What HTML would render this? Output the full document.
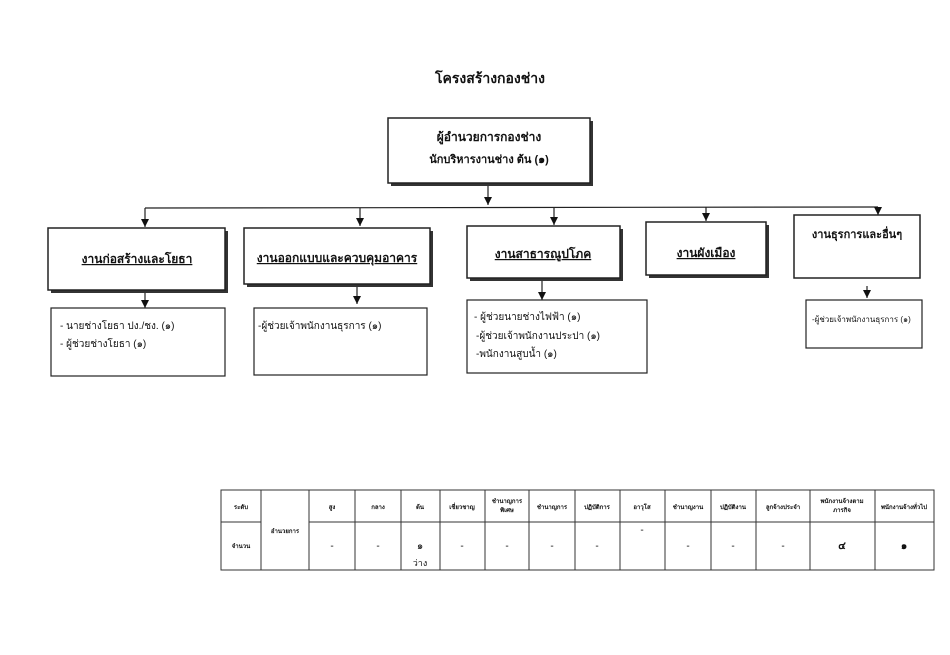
<!DOCTYPE html>
<html><head><meta charset="utf-8"><style>
body{margin:0;background:#fff;width:950px;height:650px;overflow:hidden}
svg text{font-family:"Liberation Sans","DejaVu Sans",sans-serif;fill:#111}
</style></head><body>
<svg width="950" height="650" viewBox="0 0 950 650" xmlns="http://www.w3.org/2000/svg">
<defs><marker id="a" markerWidth="8" markerHeight="8" refX="8" refY="4" orient="auto" markerUnits="userSpaceOnUse"><path d="M0,0 L8,4 L0,8 z" fill="#111"/></marker></defs>
<rect width="950" height="650" fill="#fff"/>
<text x="490" y="83" font-size="14" font-weight="bold" text-anchor="middle">โครงสร้างกองช่าง</text>
<g stroke="#222" fill="#fff">
<rect x="391" y="121" width="202" height="65" fill="#333" stroke="none"/>
<rect x="388" y="118" width="202" height="65" stroke-width="1.5"/>
<rect x="51" y="231" width="177" height="62" fill="#333" stroke="none"/>
<rect x="48" y="228" width="177" height="62" stroke-width="1.5"/>
<rect x="247" y="231" width="186" height="56" fill="#333" stroke="none"/>
<rect x="244" y="228" width="186" height="56" stroke-width="1.5"/>
<rect x="470" y="229" width="153" height="52" fill="#333" stroke="none"/>
<rect x="467" y="226" width="153" height="52" stroke-width="1.5"/>
<rect x="649" y="225" width="120" height="53" fill="#333" stroke="none"/>
<rect x="646" y="222" width="120" height="53" stroke-width="1.5"/>
<rect x="794" y="215" width="126" height="63" stroke-width="1.5"/>
<rect x="51" y="308" width="174" height="68" stroke-width="1.2"/>
<rect x="254" y="308" width="173" height="67" stroke-width="1.2"/>
<rect x="467" y="300" width="180" height="73" stroke-width="1.2"/>
<rect x="806" y="300" width="116" height="48" stroke-width="1.2"/>
</g>
<g stroke="#222" stroke-width="1.2" fill="none">
<line x1="488" y1="186" x2="488" y2="205" marker-end="url(#a)"/>
<line x1="145" y1="208" x2="878" y2="207"/>
<line x1="145" y1="208" x2="145" y2="227" marker-end="url(#a)"/>
<line x1="360" y1="208" x2="360" y2="226" marker-end="url(#a)"/>
<line x1="554" y1="208" x2="554" y2="225" marker-end="url(#a)"/>
<line x1="706" y1="207" x2="706" y2="221" marker-end="url(#a)"/>
<line x1="878" y1="207" x2="878" y2="215" marker-end="url(#a)"/>
<line x1="145" y1="293" x2="145" y2="308" marker-end="url(#a)"/>
<line x1="357" y1="287" x2="357" y2="304" marker-end="url(#a)"/>
<line x1="542" y1="281" x2="542" y2="300" marker-end="url(#a)"/>
<line x1="867" y1="286" x2="867" y2="298" marker-end="url(#a)"/>
</g>
<text x="489" y="141" font-size="12" font-weight="bold" text-anchor="middle">ผู้อำนวยการกองช่าง</text>
<text x="489" y="163" font-size="11" font-weight="bold" text-anchor="middle">นักบริหารงานช่าง  ต้น (๑)</text>
<text x="137" y="263" font-size="12" font-weight="bold" text-anchor="middle" text-decoration="underline">งานก่อสร้างและโยธา</text>
<text x="337" y="262" font-size="12" font-weight="bold" text-anchor="middle" text-decoration="underline">งานออกแบบและควบคุมอาคาร</text>
<text x="543" y="258" font-size="12" font-weight="bold" text-anchor="middle" text-decoration="underline">งานสาธารณูปโภค</text>
<text x="706" y="257" font-size="12" font-weight="bold" text-anchor="middle" text-decoration="underline">งานผังเมือง</text>
<text x="857" y="238" font-size="11" font-weight="bold" text-anchor="middle">งานธุรการและอื่นๆ</text>
<text x="60" y="329" font-size="10">- นายช่างโยธา ปง./ชง. (๑)</text>
<text x="60" y="347" font-size="10">- ผู้ช่วยช่างโยธา (๑)</text>
<text x="258" y="329" font-size="10">-ผู้ช่วยเจ้าพนักงานธุรการ (๑)</text>
<text x="474" y="320" font-size="10">- ผู้ช่วยนายช่างไฟฟ้า (๑)</text>
<text x="476" y="339" font-size="10">-ผู้ช่วยเจ้าพนักงานประปา (๑)</text>
<text x="476" y="357" font-size="10">-พนักงานสูบน้ำ (๑)</text>
<text x="812" y="322" font-size="8">-ผู้ช่วยเจ้าพนักงานธุรการ (๑)</text>
<g stroke="#333" stroke-width="1" fill="none">
<rect x="221" y="490" width="713" height="80"/>
<line x1="221" y1="522" x2="261" y2="522"/>
<line x1="309" y1="522" x2="934" y2="522"/>
<line x1="261" y1="490" x2="261" y2="570"/><line x1="309" y1="490" x2="309" y2="570"/>
<line x1="355" y1="490" x2="355" y2="570"/><line x1="401" y1="490" x2="401" y2="570"/>
<line x1="440" y1="490" x2="440" y2="570"/><line x1="485" y1="490" x2="485" y2="570"/>
<line x1="529" y1="490" x2="529" y2="570"/><line x1="575" y1="490" x2="575" y2="570"/>
<line x1="620" y1="490" x2="620" y2="570"/><line x1="665" y1="490" x2="665" y2="570"/>
<line x1="711" y1="490" x2="711" y2="570"/><line x1="756" y1="490" x2="756" y2="570"/>
<line x1="810" y1="490" x2="810" y2="570"/><line x1="875" y1="490" x2="875" y2="570"/>
</g>
<g font-size="6" text-anchor="middle" font-weight="bold">
<text x="241" y="509">ระดับ</text><text x="241" y="548">จำนวน</text>
<text x="285" y="533">อำนวยการ</text>
<text x="332" y="509">สูง</text><text x="378" y="509">กลาง</text><text x="420" y="509">ต้น</text>
<text x="462" y="509">เชี่ยวชาญ</text><text x="507" y="503">ชำนาญการ</text><text x="507" y="512">พิเศษ</text>
<text x="552" y="509">ชำนาญการ</text><text x="597" y="509">ปฏิบัติการ</text><text x="642" y="509">อาวุโส</text>
<text x="688" y="509">ชำนาญงาน</text><text x="733" y="509">ปฏิบัติงาน</text><text x="783" y="509">ลูกจ้างประจำ</text>
<text x="842" y="503">พนักงานจ้างตาม</text><text x="842" y="512">ภารกิจ</text><text x="904" y="509">พนักงานจ้างทั่วไป</text>
</g>
<g font-size="10" text-anchor="middle">
<text x="332" y="549">-</text><text x="378" y="549">-</text><text x="420" y="549">๑</text>
<text x="420" y="566" font-size="9">ว่าง</text>
<text x="462" y="549">-</text><text x="507" y="549">-</text><text x="552" y="549">-</text><text x="597" y="549">-</text>
<text x="642" y="533">-</text><text x="688" y="549">-</text><text x="733" y="549">-</text><text x="783" y="549">-</text>
<text x="842" y="549" font-weight="bold">๔</text><text x="904" y="549" font-weight="bold">๑</text>
</g>
</svg>
</body></html>
